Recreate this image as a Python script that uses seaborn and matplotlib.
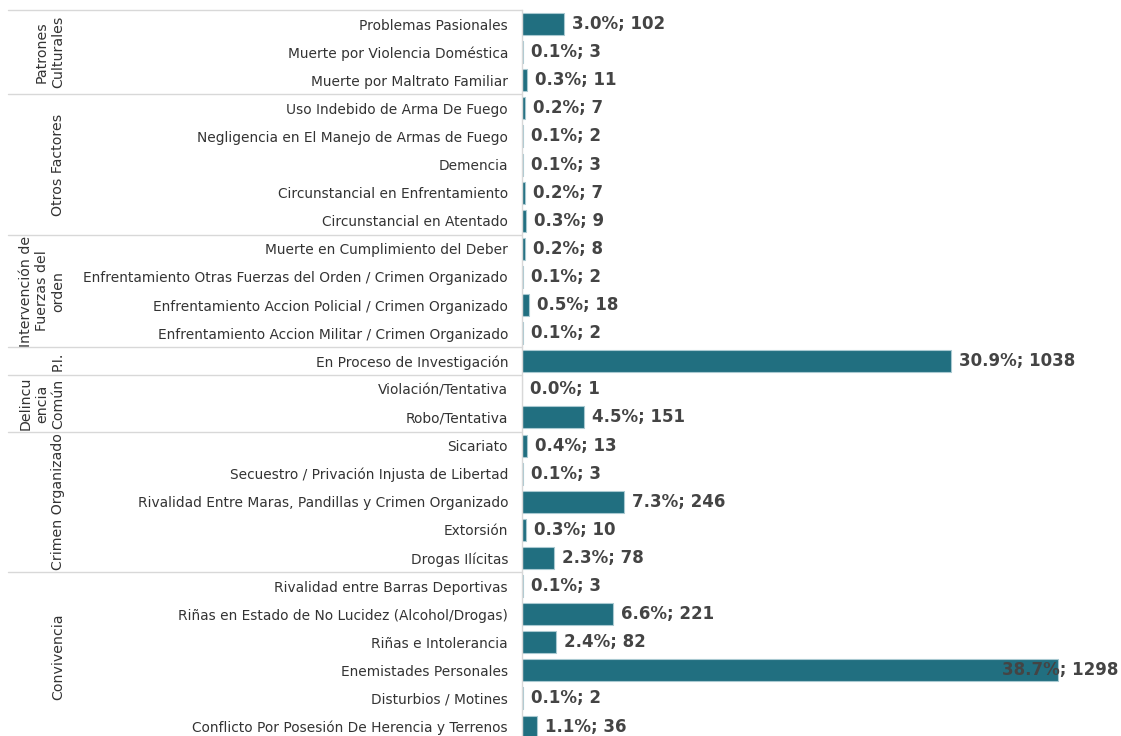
import matplotlib
matplotlib.use("Agg")
import matplotlib.pyplot as plt
import seaborn as sns
import pandas as pd

# categories (top to bottom) and their groups
causas = [
    "Problemas Pasionales", "Muerte por Violencia Doméstica", "Muerte por Maltrato Familiar",
    "Uso Indebido de Arma De Fuego", "Negligencia en El Manejo de Armas de Fuego", "Demencia",
    "Circunstancial en Enfrentamiento", "Circunstancial en Atentado",
    "Muerte en Cumplimiento del Deber", "Enfrentamiento Otras Fuerzas del Orden / Crimen Organizado",
    "Enfrentamiento Accion Policial / Crimen Organizado", "Enfrentamiento Accion Militar / Crimen Organizado",
    "En Proceso de Investigación",
    "Violación/Tentativa", "Robo/Tentativa",
    "Sicariato", "Secuestro / Privación Injusta de Libertad",
    "Rivalidad Entre Maras, Pandillas y Crimen Organizado", "Extorsión", "Drogas Ilícitas",
    "Rivalidad entre Barras Deportivas", "Riñas en Estado de No Lucidez (Alcohol/Drogas)",
    "Riñas e Intolerancia", "Enemistades Personales", "Disturbios / Motines",
    "Conflicto Por Posesión De Herencia y Terrenos",
]
casos = [102, 3, 11, 7, 2, 3, 7, 9, 8, 2, 18, 2, 1038, 1, 151, 13, 3, 246, 10, 78, 3, 221, 82, 1298, 2, 36]
porcentajes = ["3.0%", "0.1%", "0.3%", "0.2%", "0.1%", "0.1%", "0.2%", "0.3%", "0.2%", "0.1%",
               "0.5%", "0.1%", "30.9%", "0.0%", "4.5%", "0.4%", "0.1%", "7.3%", "0.3%", "2.3%",
               "0.1%", "6.6%", "2.4%", "38.7%", "0.1%", "1.1%"]
grupos = ["Patrones\nCulturales", "Otros Factores", "Intervención de\nFuerzas del\norden", "P.I.",
          "Delincu\nencia\nComún", "Crimen Organizado", "Convivencia"]
grupo_tamanos = [3, 5, 4, 1, 2, 5, 6]

df = pd.DataFrame({"causa": causas, "casos": casos})

sns.set_style("white")
plt.rcParams["font.family"] = ["DejaVu Sans"]

W, H = 1121, 736
fig = plt.figure(figsize=(W / 100, H / 100), dpi=100)
ax_left = 522 / W
ax = fig.add_axes([ax_left, 0, 1 - ax_left, (H - 10) / H])

sns.barplot(data=df, y="causa", x="casos", orient="h", color="#216f80",
            saturation=1, width=0.78, edgecolor="#a9c9d1", linewidth=0.8, ax=ax)

px_per_unit = (1058 - 522) / 1298
xmax = (W - 522) / px_per_unit
ax.set_xlim(0, xmax)
ax.set_ylim(-0.5 + (H - 10) / 28.1, -0.5)

for i, (c, p) in enumerate(zip(casos, porcentajes)):
    txt = f"{p}; {c}"
    if c * px_per_unit + 130 > W - 522:
        ax.text(xmax - 3 / px_per_unit, i, txt, ha="right", va="center",
                fontsize=12, fontweight="bold", color="#444444")
    else:
        ax.text(c + 8 / px_per_unit, i, txt, ha="left", va="center",
                fontsize=12, fontweight="bold", color="#444444")

ax.set_xlabel("")
ax.set_ylabel("")
ax.xaxis.set_visible(False)
ax.tick_params(axis="y", length=0, pad=10, labelsize=9.9, labelcolor="#333333")
for s in ["top", "right", "bottom"]:
    ax.spines[s].set_visible(False)
ax.spines["left"].set_color("#d8d8d8")
ax.spines["left"].set_linewidth(1)

# group separators and labels
trans = ax.get_yaxis_transform()
x0 = (8 - 522) / (W - 522)
xlab = (65 - 522) / (W - 522)
start = 0
for g, n in zip(grupos, grupo_tamanos):
    ax.plot([x0, 0], [start - 0.5, start - 0.5], color="#d8d8d8", lw=1,
            transform=trans, clip_on=False)
    ax.text(xlab, start + (n - 1) / 2, g, rotation=90, ha="right", va="center",
            multialignment="center", fontsize=10.2, color="#333333",
            linespacing=1.2, transform=trans)
    start += n

fig.savefig("out.png", dpi=100)
